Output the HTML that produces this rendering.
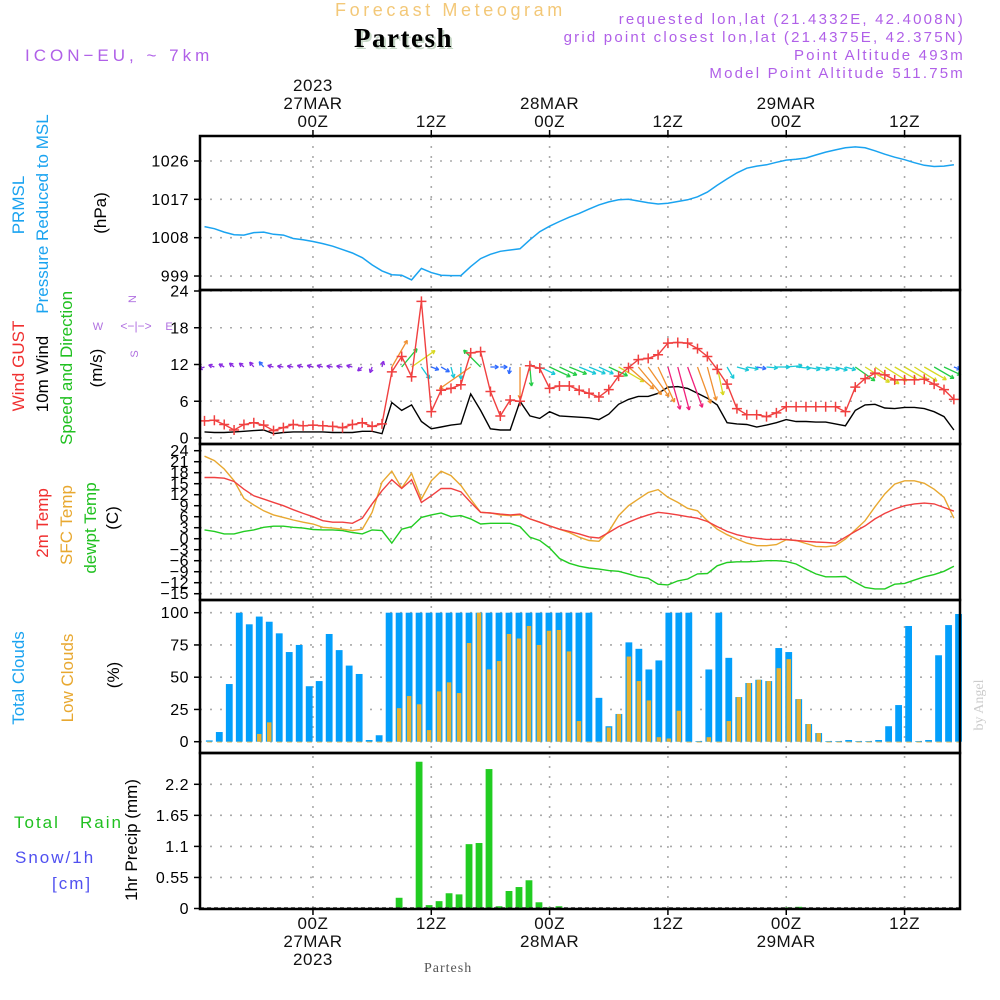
<!DOCTYPE html>
<html><head><meta charset="utf-8"><style>
html,body{margin:0;padding:0;background:#fff;}
svg{display:block;font-family:"Liberation Sans",sans-serif;}
</style></head><body>
<svg id="chart" width="1000" height="1000" viewBox="0 0 1000 1000" xmlns="http://www.w3.org/2000/svg">
<rect width="1000" height="1000" fill="#fff"/>
<g>
<text x="335" y="16" font-size="18" fill="#f3c878" letter-spacing="3.6">Forecast Meteogram</text>
<text x="356" y="49" font-size="27" font-weight="bold" font-family="Liberation Serif,serif" fill="#c8d8c8" letter-spacing="1.5">Partesh</text>
<text x="354" y="47" font-size="27" font-weight="bold" font-family="Liberation Serif,serif" fill="#000" letter-spacing="1.5">Partesh</text>
<text x="25" y="61" font-size="17" fill="#b060e8" letter-spacing="4">ICON−EU,  ~  7km</text>
<g font-size="15" fill="#b060e8" text-anchor="end" letter-spacing="2.2">
<text x="965" y="24">requested lon,lat (21.4332E, 42.4008N)</text>
<text x="965" y="42">grid point closest lon,lat (21.4375E, 42.375N)</text>
<text x="965" y="60">Point Altitude 493m</text>
<text x="965" y="78">Model Point Altitude 511.75m</text>
</g>
</g>
<g id="grid"></g>
<g id="marks"></g>
<g id="axes"></g>
<g font-size="17">
<text transform="translate(24,205) rotate(-90)" text-anchor="middle" fill="#1aa3f0">PRMSL</text>
<text transform="translate(48,214) rotate(-90)" text-anchor="middle" fill="#1aa3f0">Pressure Reduced to MSL</text>
<text transform="translate(106,213) rotate(-90)" text-anchor="middle" fill="#000">(hPa)</text>
<text transform="translate(24,366) rotate(-90)" text-anchor="middle" fill="#f03030">Wind GUST</text>
<text transform="translate(48,374) rotate(-90)" text-anchor="middle" fill="#000">10m Wind</text>
<text transform="translate(72,368) rotate(-90)" text-anchor="middle" fill="#20c020">Speed and Direction</text>
<text transform="translate(102,368) rotate(-90)" text-anchor="middle" fill="#000">(m/s)</text>
<text transform="translate(48,523) rotate(-90)" text-anchor="middle" fill="#f03030">2m Temp</text>
<text transform="translate(72,525) rotate(-90)" text-anchor="middle" fill="#e8a830">SFC Temp</text>
<text transform="translate(96,528) rotate(-90)" text-anchor="middle" fill="#20c020">dewpt Temp</text>
<text transform="translate(118,518) rotate(-90)" text-anchor="middle" fill="#000">(C)</text>
<text transform="translate(24,678) rotate(-90)" text-anchor="middle" fill="#1aa3f0">Total Clouds</text>
<text transform="translate(73,678) rotate(-90)" text-anchor="middle" fill="#e8a830">Low Clouds</text>
<text transform="translate(119,675) rotate(-90)" text-anchor="middle" fill="#000">(%)</text>
<text x="14" y="828" fill="#20c020" letter-spacing="2">Total</text>
<text x="80" y="828" fill="#20c020" letter-spacing="2">Rain</text>
<text x="15" y="863" fill="#5050f0" letter-spacing="2">Snow/1h</text>
<text x="52" y="889" fill="#5050f0" letter-spacing="2">[cm]</text>
<text transform="translate(137,840) rotate(-90)" text-anchor="middle" fill="#000">1hr Precip (mm)</text>
<g fill="#b070e0" font-size="11" stroke="none">
<text x="136" y="299" text-anchor="middle" transform="rotate(-90 136 299)">N</text>
<text x="98" y="330" text-anchor="middle">W</text>
<text x="169" y="330" text-anchor="middle">E</text>
<text x="138" y="354" text-anchor="middle" transform="rotate(-90 138 354)">S</text>
<text x="136" y="330" text-anchor="middle" font-size="12">&lt;−|−&gt;</text>
</g>
<text x="424" y="972" font-size="14" font-family="Liberation Serif,serif" fill="#555" letter-spacing="1">Partesh</text>
<text transform="translate(983,705) rotate(-90)" text-anchor="middle" font-size="14" font-family="Liberation Serif,serif" fill="#ccc">by Angel</text>
</g>
</svg>
<script>
const pressure=[1010.6,1010.1,1009.3,1008.7,1008.6,1009.2,1009.3,1008.8,1008.6,1007.8,1007.5,1007.1,1006.6,1006,1005.2,1004.4,1003.3,1001.6,1000.2,999.3,999.2,998.1,1000.8,999.8,999.2,999.1,999.1,1001.2,1003.1,1004.1,1004.8,1005.1,1005.4,1007.5,1009.4,1010.7,1011.8,1012.8,1013.7,1014.7,1015.7,1016.4,1016.9,1017,1016.6,1016.2,1015.9,1016.1,1016.5,1016.9,1017.6,1018.7,1020.3,1021.8,1023.2,1024.3,1024.8,1025.1,1025.7,1026.2,1026.4,1026.7,1027.4,1028.1,1028.6,1029.1,1029.3,1029.1,1028.4,1027.6,1026.9,1026.3,1025.6,1025,1024.7,1024.8,1025.1];
const gust=[2.8,2.9,2.2,1.3,2.2,2.5,2.1,1.2,1.7,2.2,2.0,2.1,2.0,1.9,1.7,2.2,2.5,1.9,2.3,10.8,13.3,10,22.3,4.3,7.8,8.1,8.7,13.9,14.1,7.6,3.6,6.2,6.0,11.8,11.4,8.1,8.5,8.5,7.8,7.3,6.7,7.9,10.1,11.5,12.8,13.0,13.6,15.5,15.6,15.5,14.6,13.3,11.2,8.8,4.8,3.8,3.8,3.5,4.1,5.1,5.1,5.1,5.1,5.1,5.1,4.3,8.3,9.7,10.6,10.3,9.5,9.5,9.5,9.6,8.8,7.9,6.3];
const wind10=[1.0,0.9,0.9,1.0,1.1,1.2,1.3,0.7,0.9,1.0,1.0,1.0,1.0,0.9,0.9,0.9,1.1,1.1,0.7,5.8,4.5,5.4,2.7,1.5,1.8,2.1,2.3,7.2,4.5,1.5,1.3,1.3,6.0,3.6,3.2,4.3,3.6,3.5,3.4,3.3,3.0,3.9,5.5,6.3,6.8,6.8,7.3,8.3,8.4,8.1,7.3,6.5,5.4,2.5,2.3,2.2,1.8,2.1,2.5,3.0,2.7,2.7,2.6,2.6,2.3,2.0,4.5,5.4,5.5,4.9,4.8,5.0,5.0,4.8,4.3,3.5,1.3];
const windTo=[250,290,300,310,310,320,320,285,280,280,285,285,285,280,280,285,230,200,15,30,40,55,145,110,120,165,180,235,315,90,90,190,180,175,115,115,115,112,112,112,115,115,120,131,140,145,155,164,165,160,160,165,168,150,105,100,100,95,90,85,95,100,100,100,105,105,125,122,125,122,120,120,122,120,120,115,110];
const temp2m=[16.7,16.7,16.5,15.6,13.5,11.7,10.8,9.9,9,7.9,6.9,6,4.9,4.5,4.5,4.2,5.6,9.5,13.1,16.1,13.7,16.1,9.9,11.7,13.7,13.7,12.8,9.9,7.2,7,6.7,6.5,6.7,5.4,4.5,3.5,2.6,2,1.3,0.5,0.2,1.7,3.3,4.5,5.6,6.5,7.2,6.9,6.5,6,5.6,4.7,3.3,2,1.1,0.5,0.1,-0.2,-0.2,-0.2,-0.5,-0.7,-0.9,-1,-1.2,0.4,2,3.5,5.4,6.9,8.1,9,9.5,9.7,9.5,8.5,7.5];
const sfcTemp=[22.5,21.3,19,15.8,11,9.2,7.6,6.5,5.8,5.1,4.5,4,3.1,2.9,2.6,2.2,2.6,7.2,15.4,18.4,13.8,17.8,10.8,15.8,18.4,17.2,14.5,10.8,7.2,7,6.5,6.3,6.5,5.4,4.5,3.5,2.6,1.7,0.4,-0.5,-0.7,2,6.3,9,10.8,12.6,13.4,11.3,9.9,8.3,7.6,4.9,2.6,1.1,-0.1,-1.2,-1.9,-1.9,-1.6,-0.3,-0.5,-1.3,-2.1,-2.2,-1.9,-0.1,2.4,4.9,8.7,12.2,14.9,15.8,15.8,15.1,13.5,11.3,5.6];
const dewpt=[2.4,2,1.3,1.3,2,2.4,3.1,3.4,3.4,3.1,2.9,2.5,2.4,2.4,2.2,1.7,1.3,2.4,2.2,-1.2,2.6,3.3,5.8,6.5,7,6,6.3,5.4,4,4.2,4.2,4.2,3.3,0.4,-0.5,-2.5,-5.4,-6.7,-7.5,-8,-8.3,-8.7,-8.9,-9.6,-10.4,-10.8,-12.4,-12.6,-11.5,-11,-9.6,-9.5,-7.4,-6.5,-6.3,-6.3,-6.2,-6,-6,-6.2,-6.9,-8.3,-9.6,-10.4,-10.4,-10.3,-11.9,-13.3,-13.7,-13.7,-12.4,-12.2,-11.3,-10.4,-9.8,-8.9,-7.5];
const totalClouds=[1,7.5,44.7,100,91,97,93,84,69.5,75,43,47,83.5,71,59,52.5,1.3,5,100,100,100,100,100,100,100,100,100,100,100,100,100,100,100,100,100,100,100,100,100,34,12,21.5,77,72,56,63,100,100,100,0.5,56,100,65,34.6,45.5,48,47,72.6,69.5,33,13.7,6.7,0.5,0.5,1.3,0.5,0.5,1.3,12,28.4,89.7,0.5,1.3,67,90.4,99];
const lowClouds=[0,0,0,0,0,6,15,0,0,0,0,0,0,0,0,0,0,0,0,26,35.4,29,9,39,46,37.7,76.5,100,56,62.5,83.5,80,89.7,75,86,86.6,70,16,0,0,11,21.5,66,47,32,3.5,2.5,24,0,0,3.5,0,16,34.6,45.5,48,47,57,64,33,13.7,6.7,0,0,0,0,0,0,0,0,0,0,0,0,0,0];
const precip=[0,0,0,0,0,0,0,0,0,0,0,0,0,0,0,0,0,0,0,0.19,0,2.6,0.06,0.13,0.27,0.25,1.14,1.16,2.47,0.04,0.31,0.38,0.5,0.11,0.02,0.04,0,0,0,0,0,0,0,0,0,0,0,0,0,0,0,0,0,0,0,0,0,0,0.02,0.03,0,0,0,0,0,0,0,0,0,0,0,0,0,0,0,0];
const pressTicks=[1026,1017,1008,999];
const windTicks=[24,18,12,6,0];
const tempTicks=[24,21,18,15,12,9,6,3,0,-3,-6,-9,-12,-15];
const cloudTicks=[100,75,50,25,0];
const precipTicks=[2.2,1.65,1.1,0.55,0];
const timeTicks=[11,23,35,47,59,71];
const topLabels=[["2023","27MAR","00Z"],["","","12Z"],["","28MAR","00Z"],["","","12Z"],["","29MAR","00Z"],["","","12Z"]];
const botLabels=[["00Z","27MAR","2023"],["12Z","",""],["00Z","28MAR",""],["12Z","",""],["00Z","29MAR",""],["12Z","",""]];

const NS="http://www.w3.org/2000/svg";
const X0=200,X1=960;
const xh=h=>204.5+9.86*h;
const xb=k=>209.3+9.99*k;
const yP=p=>161+(1026-p)*4.26;
const yW=v=>438-v*6.125;
const yT=t=>450.7+(24-t)*3.667;
const yC=c=>741.7-c*1.29;
const yR=r=>908.5-r*56.45;
const panels=[[136,290],[290,444],[444,600],[600,753],[753,909]];
function mk(tag,attrs,parent){const e=document.createElementNS(NS,tag);for(const k in attrs)e.setAttribute(k,attrs[k]);parent.appendChild(e);return e;}
const grid=document.getElementById('grid'),marks=document.getElementById('marks'),axes=document.getElementById('axes');

function hgrid(vals,f,name){vals.forEach(v=>{const l=mk('line',{x1:X0,x2:X1,y1:f(v),y2:f(v),stroke:'#aaa','stroke-width':1.6,'stroke-dasharray':'2 8'},grid);

});}
hgrid(pressTicks,yP,'pressure');hgrid(windTicks,yW,'wind');hgrid(tempTicks,yT,'temp');hgrid(cloudTicks,yC,'cloud');hgrid(precipTicks,yR,'precip');
timeTicks.forEach(t=>{const l=mk('line',{x1:xh(t),x2:xh(t),y1:136,y2:909,stroke:'#aaa','stroke-width':1.6,'stroke-dasharray':'2 8'},grid);

});

function line(arr,xf,yf,color,name,w){const d=arr.map((v,i)=>(i?'L':'M')+xf(i).toFixed(1)+' '+yf(v).toFixed(1)).join('');
const p=mk('path',{d:d,fill:'none',stroke:color,'stroke-width':w||1.4},marks);

return p;}

line(pressure,xh,yP,'#1aa3f0','pressure-line',1.5);
totalClouds.forEach((c,k)=>{const r=mk('rect',{x:xb(k)-3.4,y:yC(c),width:6.8,height:yC(0)-yC(c),fill:'#039ffb'},marks);

});
lowClouds.forEach((c,k)=>{const r=mk('rect',{x:xb(k)-2.2,y:yC(c),width:4.4,height:Math.max(0.8,yC(0)-yC(c)),fill:'#e8b030'},marks);

});
precip.forEach((p,k)=>{if(p<=0)return;const r=mk('rect',{x:xb(k)-3.4,y:yR(p),width:6.8,height:yR(0)-yR(p),fill:'#22cc22'},marks);

});
mk('line',{x1:X0,x2:X1,y1:908,y2:908,stroke:'#333','stroke-width':1.5,'stroke-dasharray':'4 3'},marks);
line(dewpt,xh,yT,'#22cc22','dewpt-line',1.4);
line(sfcTemp,xh,yT,'#e8a830','sfc-temp-line',1.4);
line(temp2m,xh,yT,'#f04040','temp2m-line',1.4);
line(wind10,xh,yW,'#000','wind10-line',1.4);
function acol(s){if(s<1.3)return '#8a2be2';if(s<2)return '#2f6bff';if(s<3.5)return '#18c8d8';if(s<4.8)return '#22cc44';if(s<5.6)return '#d8d820';if(s<7.5)return '#f09030';return '#f0207a';}
windTo.forEach((dir,i)=>{const s=wind10[i];const L=Math.max(6,s*5.3);const a=dir*Math.PI/180;
const x1=xh(i),y1=367,x2=x1+L*Math.sin(a),y2=y1-L*Math.cos(a);const c=acol(s);
const g=mk('g',{stroke:c,'stroke-width':1.3,fill:'none'},marks);


mk('line',{x1:x1,y1:y1,x2:x2,y2:y2},g);
const hl=4;[a+Math.PI-0.5,a+Math.PI+0.5].forEach(b=>mk('line',{x1:x2,y1:y2,x2:x2+hl*Math.sin(b),y2:y2-hl*Math.cos(b)},g));});
line(gust,xh,yW,'#f04040','gust-line',1.4);
gust.forEach((v,i)=>{const x=xh(i),y=yW(v);const p=mk('path',{d:`M${x-5} ${y}H${x+5}M${x} ${y-5}V${y+5}`,stroke:'#f04040','stroke-width':1.5},marks);

});

panels.forEach((p,i)=>{const r=mk('rect',{x:X0,y:p[0],width:X1-X0,height:p[1]-p[0],fill:'none',stroke:'#000','stroke-width':2.5},axes);

});
function ylabels(vals,f,name,fmt){vals.forEach(v=>{mk('line',{x1:194,x2:200,y1:f(v),y2:f(v),stroke:'#000','stroke-width':1.5},axes);
const t=mk('text',{x:189,y:f(v)+5.5,'text-anchor':'end','font-size':16,fill:'#000','letter-spacing':0.5},axes);t.textContent=fmt?fmt(v):String(v);

});}
ylabels(pressTicks,yP,'pressure');ylabels(windTicks,yW,'wind');ylabels(tempTicks,yT,'temp',v=>v<0?'−'+(-v):String(v));ylabels(cloudTicks,yC,'cloud');ylabels(precipTicks,yR,'precip');
timeTicks.forEach((t,j)=>{const x=xh(t);
mk('line',{x1:x,x2:x,y1:130,y2:136,stroke:'#000','stroke-width':1.5},axes);
mk('line',{x1:x,x2:x,y1:909,y2:915,stroke:'#000','stroke-width':1.5},axes);
topLabels[j].forEach((s,r)=>{if(!s)return;const e=mk('text',{x:x,y:91+r*18,'text-anchor':'middle','font-size':17,fill:'#111','letter-spacing':0.5},axes);e.textContent=s;

});
botLabels[j].forEach((s,r)=>{if(!s)return;const e=mk('text',{x:x,y:929+r*18,'text-anchor':'middle','font-size':17,fill:'#111','letter-spacing':0.5},axes);e.textContent=s;

});});
</script>
</body></html>
